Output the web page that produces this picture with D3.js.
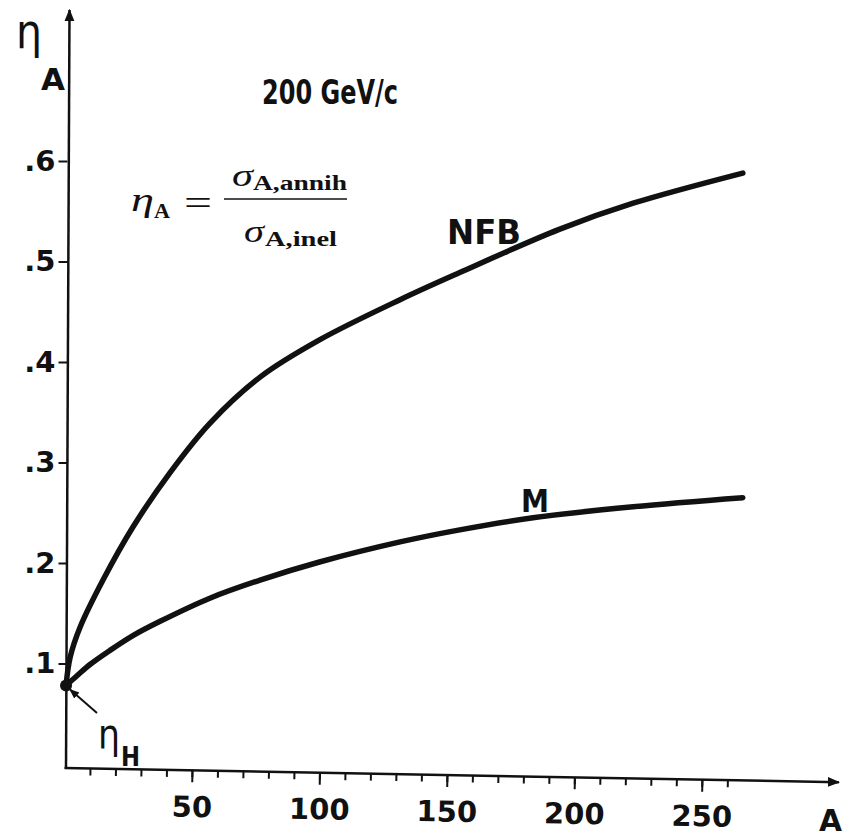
<!DOCTYPE html>
<html>
<head>
<meta charset="utf-8">
<script src="https://cdn.jsdelivr.net/npm/d3@7"></script>
<style>
  body { margin: 0; background: #fff; }
  text { fill: #111; }
</style>
</head>
<body>
<div id="container"></div>
<script>
// curve values (A = mass number, eta = sigma_annih / sigma_inel)
const nfbA = [0.6, 2.2, 6.1, 15.1, 26.9, 41.4, 57, 76.7, 100, 131.6, 155, 194, 223, 266];
const nfbEta = [0.078, 0.106, 0.136, 0.183, 0.236, 0.29, 0.339, 0.385, 0.422, 0.462, 0.489, 0.532, 0.558, 0.588];
const mA = [0.6, 5, 10, 17.8, 27, 37.5, 57, 76.7, 100, 131.6, 155, 183.7, 223, 266];
const mEta = [0.078, 0.088, 0.099, 0.113, 0.128, 0.142, 0.165, 0.183, 0.201, 0.221, 0.233, 0.245, 0.256, 0.265];
const etaH = { a: 0.6, eta: 0.078 };

const xMinorTicks = d3.range(10, 270, 10);
const xMajorTicks = [50, 100, 150, 200, 250];
const yTicks = [0.1, 0.2, 0.3, 0.4, 0.5, 0.6];

const width = 843;
const height = 837;
const axisY = 768;
const tilt = 1.05; // the scanned x axis runs slightly downhill

const x = d3.scaleLinear().domain([0, 300]).range([64.5, 829.5]);
const y = d3.scaleLinear().domain([0, 0.75]).range([764, 10.25]);

const svg = d3
  .select('#container')
  .append('svg')
  .attr('width', width)
  .attr('height', height)
  .style('font-family', "'DejaVu Sans', sans-serif");

const defs = svg.append('defs');
defs
  .append('marker')
  .attr('id', 'arrow')
  .attr('viewBox', '0 0 10 10')
  .attr('refX', 9)
  .attr('refY', 5)
  .attr('markerWidth', 5)
  .attr('markerHeight', 5)
  .attr('orient', 'auto')
  .attr('markerUnits', 'strokeWidth')
  .append('path')
  .attr('d', 'M0,1 L10,5 L0,9 Z')
  .attr('fill', '#111');

// x axis (slightly rotated like the scan)
const xg = svg
  .append('g')
  .attr('transform', `rotate(${tilt},${x(0)},${axisY}) translate(0,${axisY})`);

xg.append('line')
  .attr('x1', x(0))
  .attr('y1', 0)
  .attr('x2', 839)
  .attr('y2', 0)
  .attr('stroke', '#111')
  .attr('stroke-width', 2.5)
  .attr('marker-end', 'url(#arrow)');

const xMinor = xg
  .append('g')
  .call(d3.axisBottom(x).tickValues(xMinorTicks).tickSize(7).tickFormat(''));

const xMajor = xg
  .append('g')
  .call(d3.axisBottom(x).tickValues(xMajorTicks).tickSize(12).tickPadding(14));

[xMinor, xMajor].forEach(g => {
  g.select('.domain').remove();
  g.selectAll('line').attr('stroke', '#111').attr('stroke-width', 2);
});
xMajor
  .selectAll('text')
  .attr('font-size', 29)
  .attr('font-weight', 'bold')
  .attr('font-family', "'DejaVu Sans', sans-serif")
  .attr('fill', '#111');

// y axis
svg
  .append('line')
  .attr('x1', x(0) + 1.5)
  .attr('y1', axisY + 1)
  .attr('x2', x(0) + 5)
  .attr('y2', 10)
  .attr('stroke', '#111')
  .attr('stroke-width', 2.5)
  .attr('marker-end', 'url(#arrow)');

const yAxis = svg
  .append('g')
  .attr('transform', `translate(${x(0) + 3},0)`)
  .call(
    d3
      .axisLeft(y)
      .tickValues(yTicks)
      .tickSize(9)
      .tickPadding(3)
      .tickFormat(d => d3.format('.1f')(d).slice(1))
  );
yAxis.select('.domain').remove();
yAxis.selectAll('line').attr('stroke', '#111').attr('stroke-width', 2);
yAxis
  .selectAll('text')
  .attr('font-size', 29)
  .attr('font-weight', 'bold')
  .attr('font-family', "'DejaVu Sans', sans-serif")
  .attr('fill', '#111');

// curves
const line = d3
  .line()
  .x(d => x(d[0]))
  .y(d => y(d[1]))
  .curve(d3.curveCatmullRom.alpha(0.5));

svg
  .append('path')
  .datum(d3.zip(nfbA, nfbEta))
  .attr('d', line)
  .attr('fill', 'none')
  .attr('stroke', '#111')
  .attr('stroke-width', 5.5)
  .attr('stroke-linecap', 'round');

svg
  .append('path')
  .datum(d3.zip(mA, mEta))
  .attr('d', line)
  .attr('fill', 'none')
  .attr('stroke', '#111')
  .attr('stroke-width', 5.5)
  .attr('stroke-linecap', 'round');

svg
  .append('circle')
  .attr('cx', x(etaH.a))
  .attr('cy', y(etaH.eta))
  .attr('r', 6)
  .attr('fill', '#111');

// eta_H pointer
svg
  .append('line')
  .attr('x1', 97)
  .attr('y1', 713)
  .attr('x2', x(etaH.a) + 4)
  .attr('y2', y(etaH.eta) + 4)
  .attr('stroke', '#111')
  .attr('stroke-width', 2)
  .attr('marker-end', 'url(#arrow)');

// labels
const label = (txt, px, py, size, len) => {
  const t = svg
    .append('text')
    .attr('x', px)
    .attr('y', py)
    .attr('font-size', size)
    .attr('font-weight', 'bold')
    .text(txt);
  if (len) t.attr('textLength', len).attr('lengthAdjust', 'spacingAndGlyphs');
  return t;
};

label('200 GeV/c', 262, 104, 33, 136);
label('NFB', 447, 244, 34, 74);
label('M', 521, 512, 32, 28);
label('A', 819, 831, 31, 23);

// axis names
label('η', 16, 48, 48, 26).attr('font-weight', 'normal');
label('A', 41, 90, 30, 24);
label('η', 98, 748, 40, 22).attr('font-weight', 'normal');
label('H', 121, 766, 26, 19);

// formula
const serif = "'Liberation Serif', 'DejaVu Serif', serif";
const eq = svg.append('g').style('font-family', serif);
const part = (txt, px, py, size, opts = {}) => {
  const t = eq
    .append('text')
    .attr('x', px)
    .attr('y', py)
    .attr('font-size', size)
    .attr('font-style', opts.italic ? 'italic' : 'normal')
    .attr('font-weight', opts.bold ? 'bold' : 'normal')
    .text(txt);
  if (opts.len) t.attr('textLength', opts.len).attr('lengthAdjust', 'spacingAndGlyphs');
  return t;
};

part('η', 131, 211, 34, { italic: true, len: 23 });
part('A', 154, 218, 20, { bold: true, len: 16 });
part('=', 184, 215, 36, { len: 28 });
eq.append('line')
  .attr('x1', 224)
  .attr('x2', 347)
  .attr('y1', 199)
  .attr('y2', 199)
  .attr('stroke', '#111')
  .attr('stroke-width', 1.5);
part('σ', 232, 186, 32, { italic: true, len: 21 });
part('A,annih', 253, 190, 20, { bold: true, len: 94 });
part('σ', 244, 242, 32, { italic: true, len: 20 });
part('A,inel', 265, 246, 20, { bold: true, len: 72 });
</script>
</body>
</html>
